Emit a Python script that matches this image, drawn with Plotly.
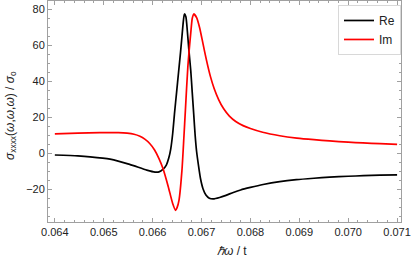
import plotly.graph_objects as go

# Re part (black)
re_x = [0.06400, 0.06447, 0.06472, 0.06513, 0.06553, 0.06588, 0.06605, 0.06613,
        0.06621, 0.06628, 0.06633, 0.06637, 0.06641, 0.06645, 0.06649, 0.06653,
        0.06657, 0.06660, 0.06663, 0.06665, 0.06668, 0.06671, 0.06674, 0.06678,
        0.06681, 0.06684, 0.06687, 0.06690, 0.06694, 0.06698, 0.06703, 0.06709,
        0.06716, 0.06724, 0.06737, 0.06750, 0.06765, 0.06780, 0.06800, 0.06826,
        0.06860, 0.06894, 0.06930, 0.06962, 0.07000, 0.07031, 0.07065, 0.07100]
re_y = [-0.8, -1.3, -1.8, -3.1, -6.0, -9.2, -10.3, -10.2,
        -8.8, -6.4, -2.5, 2.5, 11.0, 23.0, 34.0, 45.0,
        56.0, 65.0, 74.0, 77.5, 76.0, 68.0, 58.0, 46.0,
        34.0, 22.0, 10.0, 1.0, -7.0, -14.0, -19.5, -23.0,
        -24.8, -25.2, -24.4, -23.2, -21.6, -20.2, -18.8, -17.2,
        -15.6, -14.5, -13.7, -13.1, -12.6, -12.3, -12.0, -11.8]

# Im part (red)
im_x = [0.06400, 0.06447, 0.06492, 0.06530, 0.06548, 0.06562, 0.06574, 0.06584,
        0.06594, 0.06604, 0.06613, 0.06621, 0.06632, 0.06641, 0.06647, 0.06650,
        0.06654, 0.06660, 0.06664, 0.06667, 0.06672, 0.06678, 0.06681, 0.06684,
        0.06690, 0.06696, 0.06703, 0.06710, 0.06718, 0.06726, 0.06735, 0.06745,
        0.06757, 0.06770, 0.06785, 0.06800, 0.06825, 0.06860, 0.06895, 0.06930,
        0.06962, 0.07000, 0.07030, 0.07065, 0.07100]
im_y = [10.9, 11.3, 11.6, 11.6, 11.3, 10.7, 9.6, 8.0,
        5.6, 2.0, -2.8, -8.2, -18.4, -27.7, -31.5, -30.0,
        -25.8, -9.2, 9.3, 24.0, 48.0, 67.0, 75.0, 77.5,
        75.5, 70.0, 61.0, 52.0, 43.0, 36.0, 30.0, 25.0,
        20.8, 17.8, 15.5, 13.9, 11.8, 9.9, 8.6, 7.7,
        7.0, 6.3, 5.9, 5.5, 5.1]

x_ticks = [0.064, 0.065, 0.066, 0.067, 0.068, 0.069, 0.070, 0.071]
x_ticklabels = ["0.064", "0.065", "0.066", "0.067", "0.068", "0.069", "0.070", "0.071"]
y_ticks = [-20, 0, 20, 40, 60, 80]
y_ticklabels = ["\u221220", "0", "20", "40", "60", "80"]

fig = go.Figure()
fig.add_trace(go.Scatter(x=re_x, y=re_y, mode="lines", name="Re",
                         line=dict(color="black", width=1.7, shape="spline", smoothing=0.6)))
fig.add_trace(go.Scatter(x=im_x, y=im_y, mode="lines", name="Im",
                         line=dict(color="#ff0000", width=1.7, shape="spline", smoothing=0.6)))

frame = "#a0a0a0"
font = "Liberation Sans"

fig.update_layout(
    width=415, height=264,
    margin=dict(l=48, r=14, t=1, b=42),
    paper_bgcolor="white", plot_bgcolor="white",
    font=dict(family=font, size=11, color="#222222"),
    showlegend=True,
    legend=dict(x=1, xanchor="right", y=0.982, yanchor="top",
                bgcolor="white", bordercolor="#d8d8d8", borderwidth=1,
                font=dict(size=12, color="#222222"),
                itemwidth=30, tracegroupgap=2),
    xaxis=dict(range=[0.06386, 0.07108], tickvals=x_ticks, ticktext=x_ticklabels,
               showgrid=False, zeroline=False, showline=True, mirror="ticks",
               linecolor=frame, linewidth=1, ticks="inside", ticklen=4,
               tickcolor=frame, tickwidth=1,
               minor=dict(ticks="inside", dtick=0.0002, ticklen=2,
                          tickcolor=frame, showgrid=False)),
    yaxis=dict(range=[-38, 84.7], tickvals=y_ticks, ticktext=y_ticklabels,
               showgrid=False, zeroline=False, showline=True, mirror="ticks",
               linecolor=frame, linewidth=1, ticks="inside", ticklen=4,
               tickcolor=frame, tickwidth=1,
               minor=dict(ticks="inside", dtick=5, ticklen=2,
                          tickcolor=frame, showgrid=False)),
    annotations=[
        dict(text="<i>\u03c3</i><sub>xxxx</sub>(<i>\u03c9</i>,<i>\u03c9</i>,<i>\u03c9</i>) / <i>\u03c3</i><sub>o</sub>",
             xref="paper", yref="paper", x=-0.105, y=0.484, textangle=-90,
             showarrow=False, xanchor="center", yanchor="middle",
             font=dict(size=12, color="#222222")),
        dict(text="<i>\u210f\u03c9</i> / t",
             xref="paper", yref="paper", x=0.521, y=-0.131,
             showarrow=False, xanchor="center", yanchor="middle",
             font=dict(size=12, color="#222222")),
    ],
)

fig.write_html("out.html", config={"displayModeBar": False},
               post_script="document.body.style.margin='0';")
